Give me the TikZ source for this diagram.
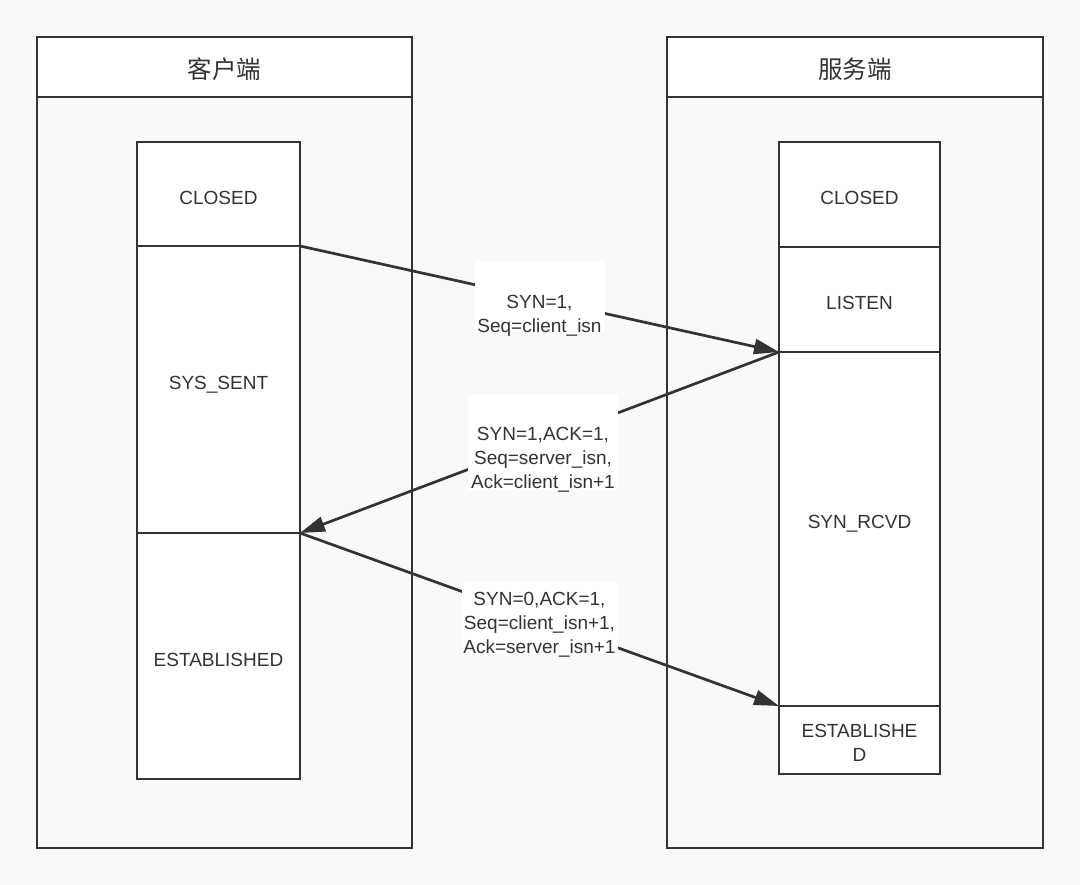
\documentclass[tikz,border=0pt]{standalone}
\usepackage{fontspec}
\setmainfont{Liberation Sans}
\newfontfamily\cjk{Noto Sans CJK SC}
\usetikzlibrary{arrows.meta}
\definecolor{bg}{HTML}{F9F9F9}
\definecolor{ink}{HTML}{333333}
\newcommand{\stx}[2]{\raisebox{#1}[\height][\depth]{\begin{tabular}{@{}c@{}}#2\end{tabular}}}
\tikzset{
  frame/.style={draw=ink, line width=2.7pt, rectangle, inner sep=0pt, outer sep=0pt, minimum width=375pt},
  head/.style={frame, fill=white, minimum height=60pt, font=\cjk\fontsize{24.5}{28}\selectfont, text=ink},
  body/.style={frame, fill=bg, minimum height=751pt},
  state/.style={draw=ink, line width=2.4pt, fill=white, rectangle, inner sep=0pt, outer sep=0pt,
    font=\fontsize{19}{24}\selectfont, text=ink, align=center},
  arr/.style={draw=ink, line width=2.7pt, -{Triangle[length=25pt,width=15pt]}},
  lblbox/.style={fill=white, inner sep=0pt, outer sep=0pt},
  lbltext/.style={text=ink, font=\fontsize{19}{24}\selectfont, align=center, inner sep=0pt}
}
\begin{document}
\begin{tikzpicture}[x=1pt,y=-1pt]
\useasboundingbox[fill=bg] (0,0) rectangle (1080,885);
% client frame
\node[body] (cbody) at (224.5,472.5) {};
\node[head] (chead) at (224.5,67) {\stx{-5pt}{客户端}};
% server frame
\node[body, minimum width=376pt] (sbody) at (855,472.5) {};
\node[head, minimum width=376pt] (shead) at (855,67) {\stx{-5pt}{服务端}};
% client states
\node[state, minimum width=163pt, minimum height=104pt] (cclosed) at (218.5,194) {\stx{-6pt}{CLOSED}};
\node[state, minimum width=163pt, minimum height=287pt] (csent) at (218.5,389.5) {\stx{5pt}{SYS\_SENT}};
\node[state, minimum width=163pt, minimum height=246pt] (cest) at (218.5,656) {\stx{-6pt}{ESTABLISHED}};
% server states
\node[state, minimum width=161pt, minimum height=105pt] (sclosed) at (859.5,194.5) {\stx{-5pt}{CLOSED}};
\node[state, minimum width=161pt, minimum height=105pt] (slisten) at (859.5,299.5) {\stx{-5pt}{LISTEN}};
\node[state, minimum width=161pt, minimum height=354pt] (srcvd) at (859.5,529) {\stx{5pt}{SYN\_RCVD}};
\node[state, minimum width=161pt, minimum height=68pt] (sest) at (859.5,740) {\stx{-5pt}{ESTABLISHE\\D}};
% messages
\draw[arr] (csent.north east) -- node[lblbox, yshift=1.5pt, minimum width=130pt, minimum height=70pt] (m1) {} (srcvd.north west);
\node[lbltext] (t1) at ([yshift=-18.5pt]m1.center) {SYN=1,\\Seq=client\_isn};
\draw[arr] (srcvd.north west) -- node[lblbox, xshift=3.5pt, minimum width=150pt, minimum height=95pt] (m2) {} (cest.north east);
\node[lbltext] (t2) at ([yshift=-17.5pt]m2.center) {SYN=1,ACK=1,\\Seq=server\_isn,\\Ack=client\_isn+1};
\draw[arr] (cest.north east) -- node[lblbox, yshift=1.5pt, minimum width=156pt, minimum height=72pt] (m3) {} (sest.north west);
\node[lbltext] (t3) at ([yshift=-6.5pt]m3.center) {SYN=0,ACK=1,\\Seq=client\_isn+1,\\Ack=server\_isn+1};
\end{tikzpicture}
\end{document}
